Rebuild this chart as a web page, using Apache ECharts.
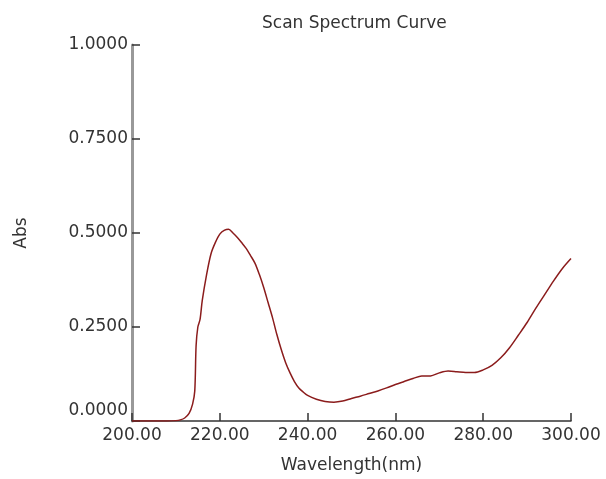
<!DOCTYPE html>
<html>
<head>
<meta charset="utf-8">
<script src="https://cdn.jsdelivr.net/npm/echarts@6/dist/echarts.min.js"></script>
<style>html,body{margin:0;padding:0;background:#fff;}#c{width:606px;height:479px;}</style>
</head>
<body>
<div id="c"></div>
<script>
var titleText = 'Scan Spectrum Curve';
var xName = 'Wavelength(nm)';
var yName = 'Abs';
var wavelengths = [200,202,204,206,208,210,211,212,213,213.8,214.3,214.6,215,215.5,216,217,218,219,220,221,222,223,224,225,226,227,228,229,230,231,232,233,234,235,236,237,238,239,240,242,244,246,248,250,252,254,256,258,260,262,264,266,268,270,272,274,276,278,280,282,284,286,288,290,292,294,296,298,300];
var absorbance = [0,0,0,0,0,0.001,0.003,0.008,0.02,0.045,0.08,0.2,0.25,0.27,0.32,0.39,0.445,0.475,0.497,0.507,0.51,0.5,0.488,0.474,0.459,0.44,0.42,0.39,0.355,0.315,0.275,0.23,0.19,0.155,0.128,0.105,0.088,0.077,0.068,0.058,0.052,0.05,0.053,0.06,0.066,0.073,0.08,0.088,0.097,0.105,0.113,0.12,0.12,0.128,0.133,0.131,0.129,0.129,0.136,0.148,0.168,0.195,0.228,0.262,0.3,0.336,0.372,0.405,0.432];

var pts = wavelengths.map(function(w, i){ return [w, absorbance[i]]; });
var FONT = 'DejaVu Sans';
var TXT = '#333';
var chart = echarts.init(document.getElementById('c'));
chart.setOption({
  animation: false,
  title: { text: titleText, left: 257, top: 10, textStyle: { fontFamily: FONT, fontSize: 17, fontWeight: 'normal', color: TXT } },
  grid: { left: 132, right: 35, top: 45, bottom: 57, containLabel: false },
  xAxis: {
    type: 'value', min: 200, max: 300, interval: 20,
    name: xName, nameLocation: 'middle', nameGap: 36,
    nameTextStyle: { fontFamily: FONT, fontSize: 17, color: TXT, verticalAlign: 'top' },
    axisLine: { show: true, lineStyle: { color: '#333', width: 1.5 } },
    axisTick: { show: true, inside: true, length: 8, lineStyle: { color: '#333', width: 1.5 } },
    axisLabel: { fontFamily: FONT, fontSize: 17, color: TXT, margin: 6, formatter: function(v){ return v.toFixed(2); } },
    splitLine: { show: false }
  },
  yAxis: {
    type: 'value', min: 0, max: 1, interval: 0.25,
    name: yName, nameLocation: 'middle', nameGap: 102, nameRotate: 90,
    nameTextStyle: { fontFamily: FONT, fontSize: 17, color: TXT },
    axisLine: { show: true, lineStyle: { color: '#999', width: 3 } },
    axisTick: { show: true, inside: true, length: 8, lineStyle: { color: '#333', width: 1.5 } },
    axisLabel: {
      fontFamily: FONT, fontSize: 17, color: TXT, margin: 4,
      formatter: function(v){ return v === 0 ? '{low|' + v.toFixed(4) + '}' : v.toFixed(4); },
      rich: { low: { fontFamily: FONT, fontSize: 17, color: TXT, padding: [0, 0, 20, 0] } }
    },
    splitLine: { show: false }
  },
  series: [{
    type: 'line', data: pts, smooth: 0.3, showSymbol: false, symbol: 'none',
    lineStyle: { color: '#8B1C1C', width: 1.5 }
  }]
});
</script>
</body>
</html>
